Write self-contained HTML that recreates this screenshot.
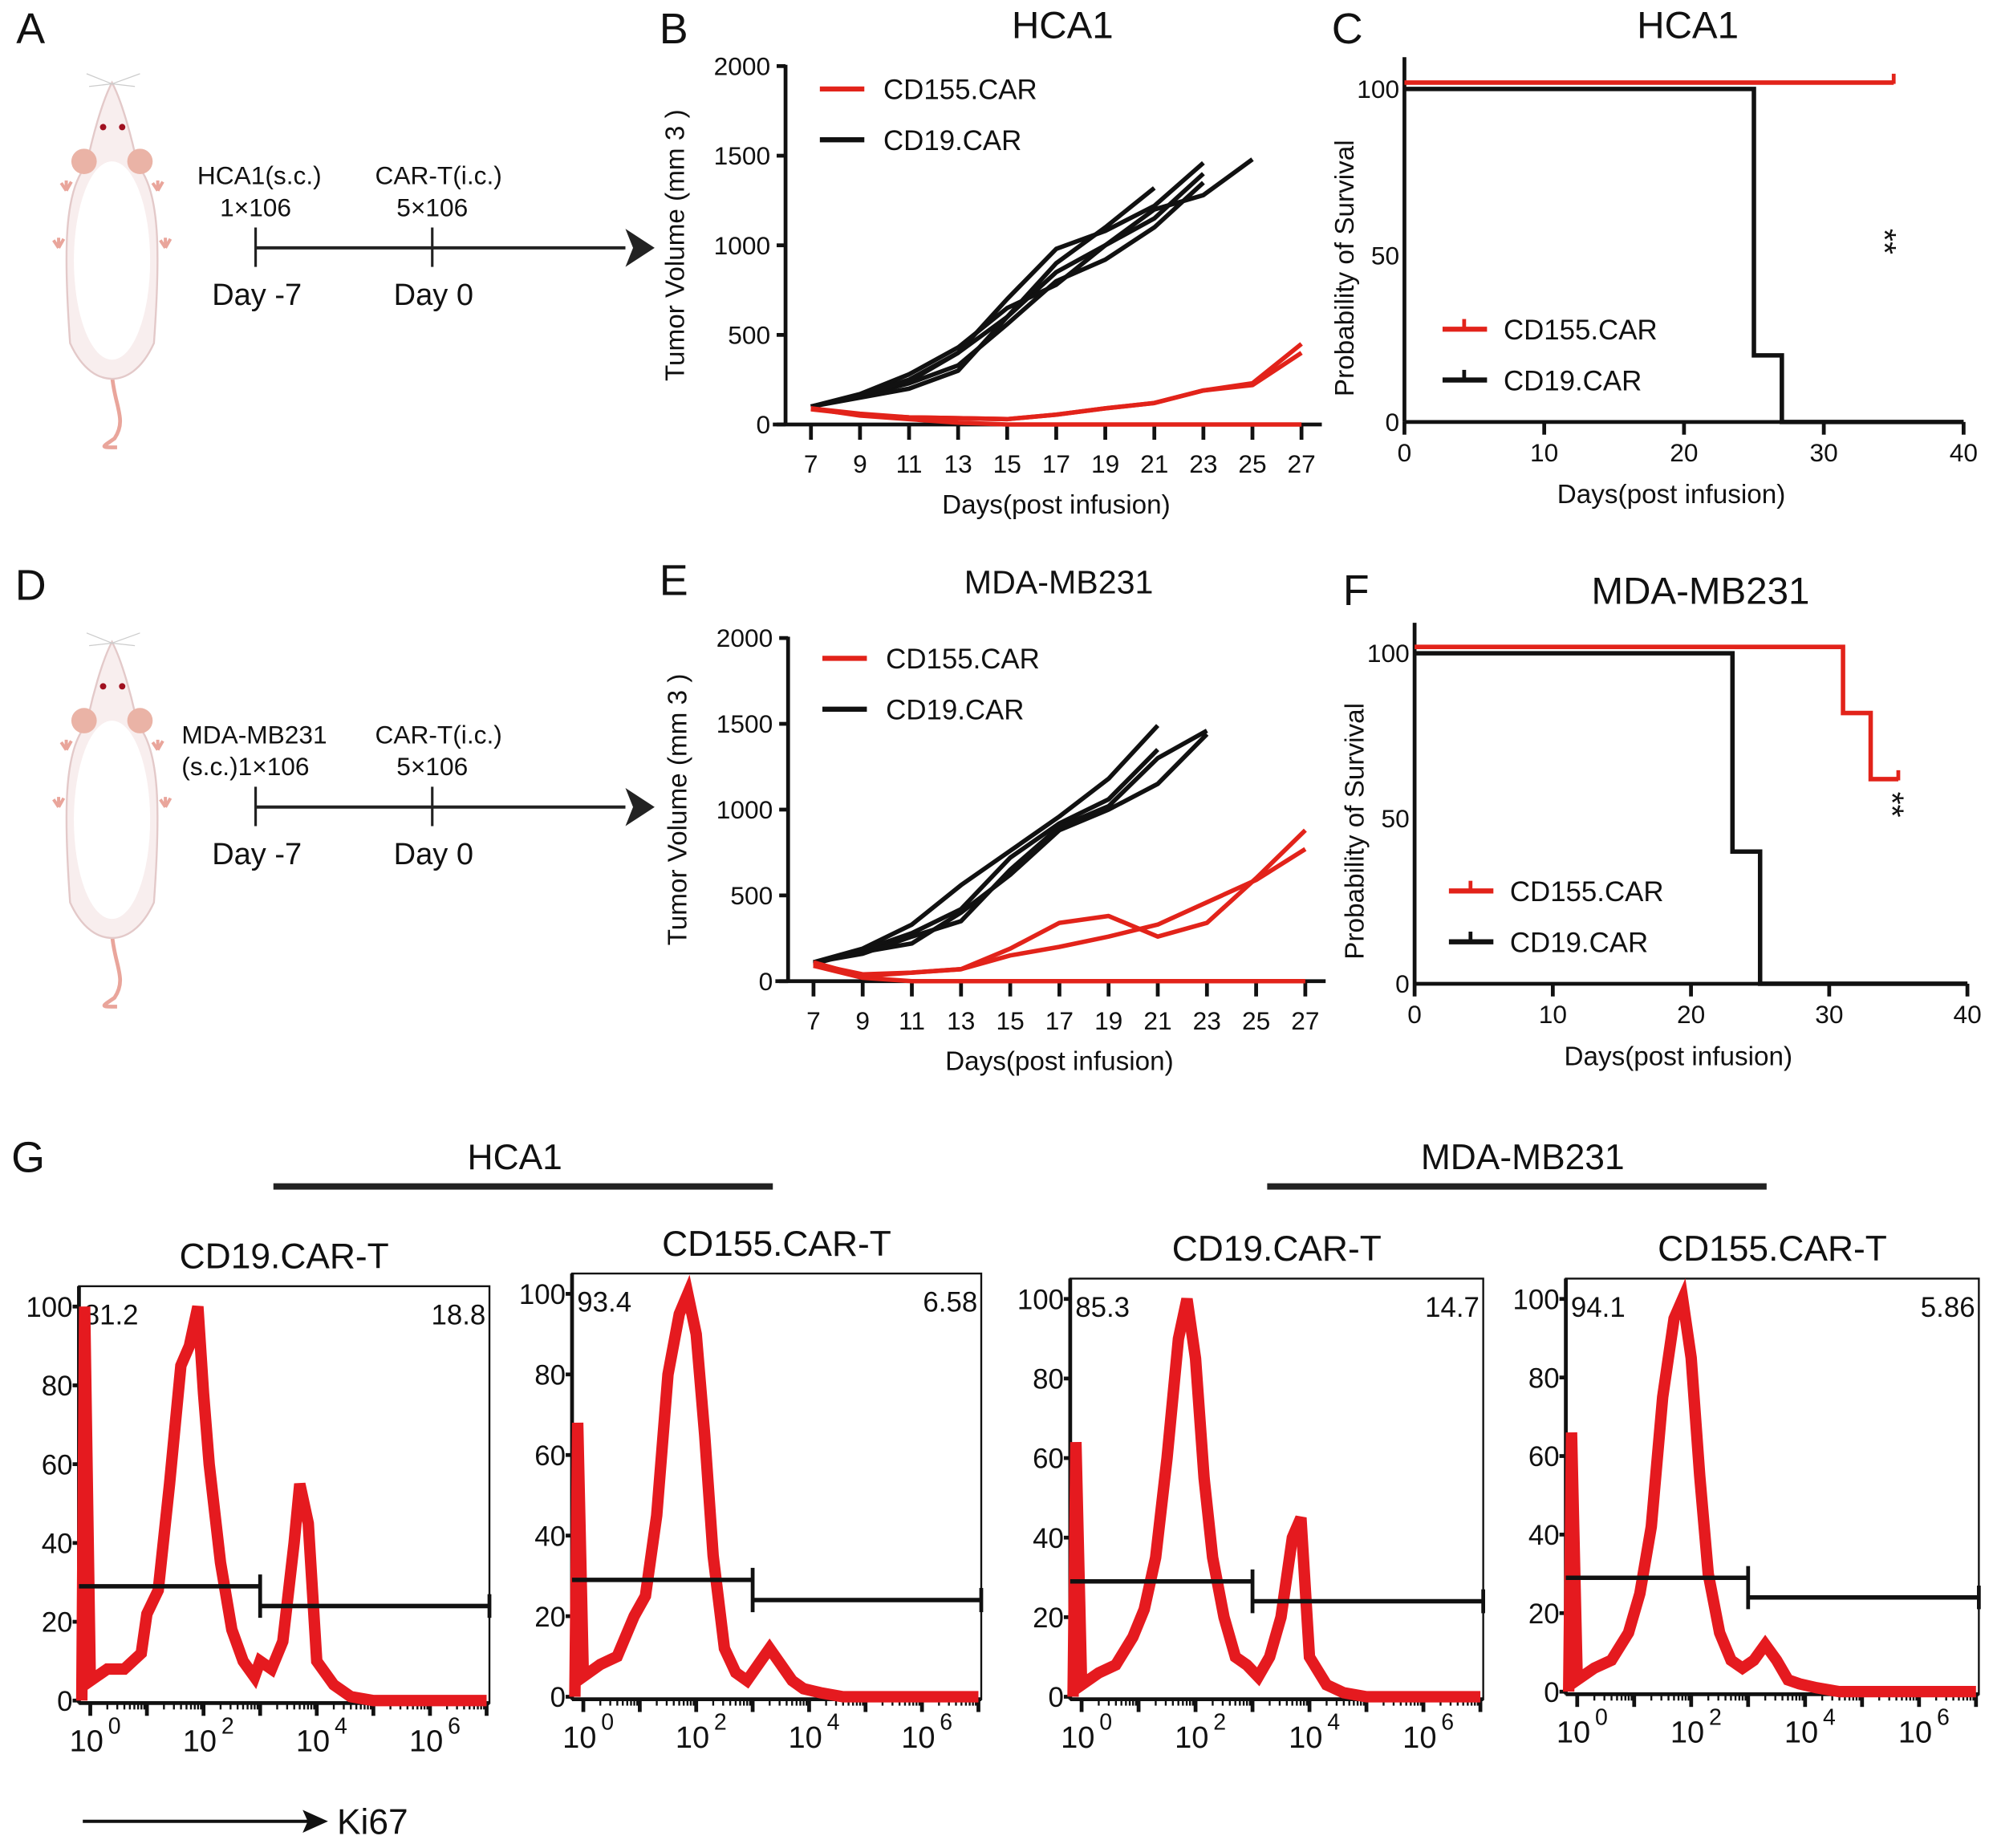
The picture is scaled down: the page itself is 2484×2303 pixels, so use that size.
<!DOCTYPE html>
<html><head><meta charset="utf-8"><style>
html,body{margin:0;padding:0;background:#fff;}
svg{display:block;font-family:"Liberation Sans",Arial,sans-serif;}
</style></head><body>
<svg id="fig" width="2484" height="2303" viewBox="0 0 1568 1454" xmlns="http://www.w3.org/2000/svg">
<rect width="1568" height="1454" fill="#fff"/>
<g id="mice"></g>
</svg>
<script>
// ---------- DATA ----------
const daysB = [7,9,11,13,15,17,19,21,23,25,27];
const blackB1 = [100,160,230,330,560,800,920,1100,1350];
const blackB2 = [100,160,240,400,600,850,1000,1200,1280,1480];
const blackB3 = [100,150,200,300,600,900,1100,1320];
const blackB4 = [100,170,280,430,650,780,1000,1150,1400];
const blackB5 = [100,160,250,400,700,980,1080,1220,1460];
const redB1 = [90,50,30,10,0,0,0,0,0,0,0];
const redB2 = [90,60,40,35,30,55,90,120,190,230,450];
const redB3 = [85,55,40,35,30,55,90,120,190,220,400];
const blackE1 = [110,190,330,560,760,960,1180,1490];
const blackE2 = [110,170,220,400,620,880,1000,1150,1440];
const blackE3 = [100,180,280,420,720,920,1060,1350];
const blackE4 = [110,160,260,350,650,900,1020,1300,1460];
const redE1 = [110,30,50,70,190,340,380,260,340,600,880];
const redE2 = [100,40,50,70,150,200,260,330,460,590,770];
const redE3 = [90,20,0,0,0,0,0,0,0,0,0];
const volTicks = [0,500,1000,1500,2000];
const survTicksX = [0,10,20,30,40];
const survTicksY = [0,50,100];
const survC_red = [[0,100],[35,100]];
const survC_black = [[0,100],[25,100],[25,20],[27,20],[27,0],[40,0]];
const survF_red = [[0,100],[31,100],[31,80],[33,80],[33,60],[35,60]];
const survF_black = [[0,100],[23,100],[23,40],[25,40],[25,0],[40,0]];
const histX1 = [-0.15,-0.1,0,0.3,0.6,0.9,1.0,1.2,1.4,1.6,1.75,1.9,2.0,2.1,2.3,2.5,2.7,2.9,3.0,3.2,3.4,3.6,3.7,3.85,4.0,4.3,4.6,5,6,7];
const histY1 = [0,100,5,8,8,12,22,28,55,85,90,100,78,60,35,18,10,6,10,8,15,40,55,45,10,4,1,0,0,0];
const histX2 = [-0.15,-0.1,0,0.3,0.6,0.9,1.1,1.3,1.5,1.7,1.85,2.0,2.15,2.3,2.5,2.7,2.9,3.1,3.3,3.5,3.7,3.9,4.2,4.6,5,6,7];
const histY2 = [0,68,5,8,10,20,25,45,80,95,100,90,65,35,12,6,4,8,12,8,4,2,1,0,0,0,0];
const histX3 = [-0.15,-0.1,0,0.3,0.6,0.9,1.1,1.3,1.5,1.7,1.85,2.0,2.15,2.3,2.5,2.7,2.9,3.1,3.3,3.5,3.7,3.85,4.0,4.3,4.6,5,6,7];
const histY3 = [0,64,3,6,8,15,22,35,60,90,100,85,55,35,20,10,8,5,10,20,40,45,10,3,1,0,0,0];
const histX4 = [-0.15,-0.1,0,0.3,0.6,0.9,1.1,1.3,1.5,1.7,1.85,2.0,2.15,2.3,2.5,2.7,2.9,3.1,3.3,3.5,3.7,3.9,4.2,4.6,5,6,7];
const histY4 = [0,66,3,6,8,15,25,42,75,95,100,85,55,30,15,8,6,8,12,8,3,2,1,0,0,0,0];
const histTicksY = [0,20,40,60,80,100];
const histTicksX = [0,2,4,6];
const histLeftPct = ["81.2","93.4","85.3","94.1"];
const histRightPct = ["18.8","6.58","14.7","5.86"];
const histTitles = ["CD19.CAR-T","CD155.CAR-T","CD19.CAR-T","CD155.CAR-T"];

// ---------- HELPERS ----------
const NS="http://www.w3.org/2000/svg";
const svg=document.getElementById('fig');
function mk(tag,attrs,parent){const e=document.createElementNS(NS,tag);for(const k in attrs)e.setAttribute(k,attrs[k]);(parent||svg).appendChild(e);return e;}
function txt(x,y,s,size,opts,parent){opts=opts||{};const e=mk('text',Object.assign({x:x,y:y,'font-size':size,fill:'#111','text-anchor':opts.anchor||'middle'},opts.extra||{}),parent);e.textContent=s;return e;}

// ---------- PANEL LABELS ----------
[["A",24,34],["B",530,34],["C",1060,34],["D",24,472],["E",530,468],["F",1067,476],["G",22,922]].forEach(p=>{
  const t=txt(p[1],p[2],p[0],34,{});
  
  
});

// ---------- MICE + TIMELINES ----------
function mouse(oy){
  const g=mk('g',{transform:'translate(0,'+oy+')'},document.getElementById('mice'));
  
  
  mk('path',{d:'M88,295 C90,320 100,330 90,345 C80,352 78,352 92,352',fill:'none',stroke:'#e9a59b','stroke-width':3},g);
  mk('path',{d:'M88,65 C80,80 72,110 68,130 C50,150 50,200 55,270 C65,292 78,298 88,298 C98,298 111,292 121,270 C126,200 126,150 108,130 C104,110 96,80 88,65Z',fill:'#f8eeee',stroke:'#e3c9c9','stroke-width':1.5},g);
  mk('ellipse',{cx:88,cy:205,rx:30,ry:78,fill:'#fff'},g);
  mk('circle',{cx:66,cy:127,r:10,fill:'#eab3a6'},g);
  mk('circle',{cx:110,cy:127,r:10,fill:'#eab3a6'},g);
  mk('circle',{cx:81,cy:100,r:2.5,fill:'#a01020'},g);
  mk('circle',{cx:96,cy:100,r:2.5,fill:'#a01020'},g);
  [[52,150],[124,150],[46,195],[130,195]].forEach(p=>mk('path',{d:'M'+p[0]+','+p[1]+' l-4,-6 M'+p[0]+','+p[1]+' l4,-7 M'+p[0]+','+p[1]+' l0,-8',stroke:'#e9a59b','stroke-width':2.5,fill:'none'},g));
  mk('path',{d:'M88,66 l-20,-8 M88,66 l22,-8 M88,66 l-18,2 M88,66 l18,2',stroke:'#ccc','stroke-width':0.8},g);
}
mouse(0); mouse(440);
function timeline(oy,l1a,l1b,name){
  const g=mk('g',{});
  
  
  mk('line',{x1:201,y1:195+oy,x2:492,y2:195+oy,stroke:'#222','stroke-width':2.5},g);
  mk('path',{d:'M515,'+(195+oy)+' L492,'+(180+oy)+' L498,'+(195+oy)+' L492,'+(210+oy)+'Z',fill:'#222'},g);
  mk('line',{x1:201,y1:179+oy,x2:201,y2:210+oy,stroke:'#222','stroke-width':2},g);
  mk('line',{x1:340,y1:179+oy,x2:340,y2:210+oy,stroke:'#222','stroke-width':2},g);
  txt(l1a[0],145+oy,l1a[1],20,{},g); txt(l1b[0],145+oy,l1b[1],20,{},g);
  txt(l1a[2],170+oy,l1a[3],20,{},g); txt(l1b[2],170+oy,l1b[3],20,{},g);
  txt(202,240+oy,'Day -7',24,{},g); txt(341,240+oy,'Day 0',24,{},g);
}
timeline(0,[204,'HCA1(s.c.)',201,'1×106'],[345,'CAR-T(i.c.)',340,'5×106'],'timeline-hca1');
timeline(440,[200,'MDA-MB231',193,'(s.c.)1×106'],[345,'CAR-T(i.c.)',340,'5×106'],'timeline-mda');

// ---------- TUMOR VOLUME ----------
function volPanel(cfg){
  const g=mk('g',{});
  
  
  const xS=d=>cfg.x0+(d-7)*(cfg.x1-cfg.x0)/20;
  const yS=v=>cfg.y0-v*(cfg.y0-cfg.y1)/2000;
  mk('line',{x1:cfg.ax,y1:yS(0),x2:cfg.ax,y2:yS(2000)-1,stroke:'#111','stroke-width':3},g);
  mk('line',{x1:cfg.ax-10,y1:yS(0),x2:cfg.x1+16,y2:yS(0),stroke:'#111','stroke-width':3},g);
  volTicks.forEach(v=>{mk('line',{x1:cfg.ax-7,y1:yS(v),x2:cfg.ax,y2:yS(v),stroke:'#111','stroke-width':3},g);
    txt(cfg.ax-12,yS(v)+7,String(v),20,{anchor:'end'},g);});
  daysB.forEach(d=>{mk('line',{x1:xS(d),y1:yS(0),x2:xS(d),y2:yS(0)+12,stroke:'#111','stroke-width':3},g);
    txt(xS(d),yS(0)+38,String(d),20,{},g);});
  txt((cfg.x0+cfg.x1)/2,yS(0)+70,'Days(post infusion)',21,{},g);
  txt(0,0,'Tumor Volume (mm 3 )',21,{extra:{transform:'translate('+(cfg.ax-80)+','+((yS(0)+yS(2000))/2)+') rotate(-90)'}},g);
  txt(cfg.tx,cfg.ty,cfg.title,cfg.tsize,{},g);
  function series(arr,color,nm){
    const pts=arr.map((v,i)=>xS(daysB[i])+','+yS(v)).join(' ');
    const p=mk('polyline',{points:pts,fill:'none',stroke:color,'stroke-width':3.5,'stroke-linejoin':'round'},g);
    
    
  }
  cfg.black.forEach((a,i)=>series(a,'#111','cd19-line-'+(i+1)));
  cfg.red.forEach((a,i)=>series(a,'#e2231a','cd155-line-'+(i+1)));
  const ly=cfg.ly;
  mk('line',{x1:cfg.lx,y1:ly,x2:cfg.lx+35,y2:ly,stroke:'#e2231a','stroke-width':4},g);
  txt(cfg.lx+50,ly+8,'CD155.CAR',22,{anchor:'start'},g);
  mk('line',{x1:cfg.lx,y1:ly+40,x2:cfg.lx+35,y2:ly+40,stroke:'#111','stroke-width':4},g);
  txt(cfg.lx+50,ly+48,'CD19.CAR',22,{anchor:'start'},g);
}
volPanel({name:'panel-b-tumor-volume',ax:618,x0:638,x1:1024,y0:334,y1:52,black:[blackB1,blackB2,blackB3,blackB4,blackB5],red:[redB1,redB2,redB3],lx:645,ly:70,title:'HCA1',tx:836,ty:30,tsize:30});
volPanel({name:'panel-e-tumor-volume',ax:620,x0:640,x1:1027,y0:772,y1:502,black:[blackE1,blackE2,blackE3,blackE4],red:[redE1,redE2,redE3],lx:647,ly:518,title:'MDA-MB231',tx:833,ty:467,tsize:26});

// ---------- SURVIVAL ----------
function survPanel(cfg){
  const g=mk('g',{});
  
  
  const xS=t=>cfg.x0+t*(cfg.x1-cfg.x0)/40;
  const yS=p=>cfg.y0-p*(cfg.y0-cfg.y1)/100;
  mk('line',{x1:cfg.x0,y1:cfg.y0,x2:cfg.x0,y2:cfg.top,stroke:'#111','stroke-width':3},g);
  mk('line',{x1:cfg.x0,y1:cfg.y0,x2:cfg.x1,y2:cfg.y0,stroke:'#111','stroke-width':3},g);
  survTicksY.forEach(v=>{txt(cfg.x0-4,yS(v)+7,String(v),20,{anchor:'end'},g);});
  survTicksX.forEach(v=>{mk('line',{x1:xS(v),y1:cfg.y0,x2:xS(v),y2:cfg.y0+10,stroke:'#111','stroke-width':3},g);
    txt(xS(v),cfg.y0+31,String(v),20,{},g);});
  txt((cfg.x0+cfg.x1)/2-10,cfg.y0+64,'Days(post infusion)',21,{},g);
  txt(0,0,'Probability of Survival',21,{extra:{transform:'translate('+(cfg.x0-40)+','+((cfg.y0+cfg.y1)/2+10)+') rotate(-90)'}},g);
  txt(cfg.tx,cfg.ty,cfg.title,30,{},g);
  function step(arr,color,off,nm){
    const pts=arr.map(p=>xS(p[0])+','+(yS(p[1])-off)).join(' ');
    const p=mk('polyline',{points:pts,fill:'none',stroke:color,'stroke-width':3.5},g);
    
    
  }
  step(cfg.black,'#111',0,'cd19-survival');
  step(cfg.red,'#e2231a',5,'cd155-survival');
  const last=cfg.red[cfg.red.length-1];
  mk('line',{x1:xS(last[0]),y1:yS(last[1])-12,x2:xS(last[0]),y2:yS(last[1])-4,stroke:'#e2231a','stroke-width':3},g);
  txt(0,0,'**',26,{extra:{transform:'translate('+cfg.sx+','+cfg.sy+') rotate(90)'}},g);
  mk('line',{x1:cfg.lx,y1:cfg.ly,x2:cfg.lx+35,y2:cfg.ly,stroke:'#e2231a','stroke-width':4},g);
  mk('line',{x1:cfg.lx+17,y1:cfg.ly,x2:cfg.lx+17,y2:cfg.ly-8,stroke:'#e2231a','stroke-width':3},g);
  txt(cfg.lx+48,cfg.ly+8,'CD155.CAR',22,{anchor:'start'},g);
  mk('line',{x1:cfg.lx,y1:cfg.ly+40,x2:cfg.lx+35,y2:cfg.ly+40,stroke:'#111','stroke-width':4},g);
  mk('line',{x1:cfg.lx+17,y1:cfg.ly+40,x2:cfg.lx+17,y2:cfg.ly+32,stroke:'#111','stroke-width':3},g);
  txt(cfg.lx+48,cfg.ly+48,'CD19.CAR',22,{anchor:'start'},g);
}
survPanel({name:'panel-c-survival',x0:1105,x1:1545,y0:332,y1:70,top:45,black:survC_black,red:survC_red,title:'HCA1',tx:1328,ty:30,sx:1474,sy:190,lx:1135,ly:259});
survPanel({name:'panel-f-survival',x0:1113,x1:1548,y0:774,y1:514,top:490,black:survF_black,red:survF_red,title:'MDA-MB231',tx:1338,ty:475,sx:1480,sy:633,lx:1140,ly:701});

// ---------- G HEADERS ----------
txt(405,920,'HCA1',28,{}); mk('rect',{x:215,y:931,width:393,height:5,fill:'#222'});
txt(1198,920,'MDA-MB231',28,{}); mk('rect',{x:997,y:931,width:393,height:5,fill:'#222'});

// ---------- HISTOGRAMS ----------
const histBoxes=[[62,1012,385,1340],[450,1002,772,1337],[842,1006,1167,1337],[1232,1006,1557,1333]];
const histXs=[histX1,histX2,histX3,histX4], histYs=[histY1,histY2,histY3,histY4];
histBoxes.forEach((b,i)=>{
  const g=mk('g',{});
  
  
  const [L,T,R,B]=b;
  const lo=-0.2, hi=7.05;
  const xS=v=>L+(v-lo)*(R-L)/(hi-lo);
  const yS=v=>B-2-v*(B-T-18)/100;
  mk('rect',{x:L,y:T,width:R-L,height:B-T,fill:'none',stroke:'#111','stroke-width':1.5},g);
  mk('line',{x1:L,y1:T,x2:L,y2:B,stroke:'#111','stroke-width':3},g);
  mk('line',{x1:L,y1:B,x2:R,y2:B,stroke:'#111','stroke-width':3},g);
  histTicksY.forEach(v=>{mk('line',{x1:L-5,y1:yS(v),x2:L,y2:yS(v),stroke:'#111','stroke-width':3},g);
    txt(L-5,yS(v)+8,String(v),22,{anchor:'end'},g);});
  for(let d=0;d<=7;d++){for(let k=1;k<10;k++){const v=d+Math.log10(k);if(v>hi)break;
    mk('line',{x1:xS(v),y1:B,x2:xS(v),y2:B+(k==1?10:5),stroke:'#111','stroke-width':k==1?3:1.5},g);}}
  histTicksX.forEach(v=>{txt(xS(v)-3,B+38,'10',24,{},g);
    txt(xS(v)+14,B+24,String(v),18,{anchor:'start'},g);});
  txt((L+R)/2,T-14,histTitles[i],28,{},g);
  txt(L+4,T+30,histLeftPct[i],22,{anchor:'start'},g);
  txt(R-3,T+30,histRightPct[i],22,{anchor:'end'},g);
  const pts=histXs[i].map((v,j)=>xS(v)+','+yS(histYs[i][j])).join(' ');
  const p=mk('polyline',{points:pts,fill:'none',stroke:'#e51a1f','stroke-width':9,'stroke-linejoin':'miter'},g);
  
  
  const gx=xS(3);
  mk('polyline',{points:L+','+yS(29)+' '+gx+','+yS(29),fill:'none',stroke:'#111','stroke-width':3.5},g);
  mk('line',{x1:gx,y1:yS(32),x2:gx,y2:yS(21),stroke:'#111','stroke-width':3},g);
  mk('line',{x1:gx,y1:yS(24),x2:R,y2:yS(24),stroke:'#111','stroke-width':3.5},g);
  mk('line',{x1:R,y1:yS(27),x2:R,y2:yS(21),stroke:'#111','stroke-width':3},g);
});
mk('line',{x1:65,y1:1433,x2:245,y2:1433,stroke:'#111','stroke-width':2.5});
mk('path',{d:'M258,1433 L238,1424 L242,1433 L238,1442Z',fill:'#111'});
txt(265,1443,'Ki67',28,{anchor:'start'});
</script>
</body></html>
